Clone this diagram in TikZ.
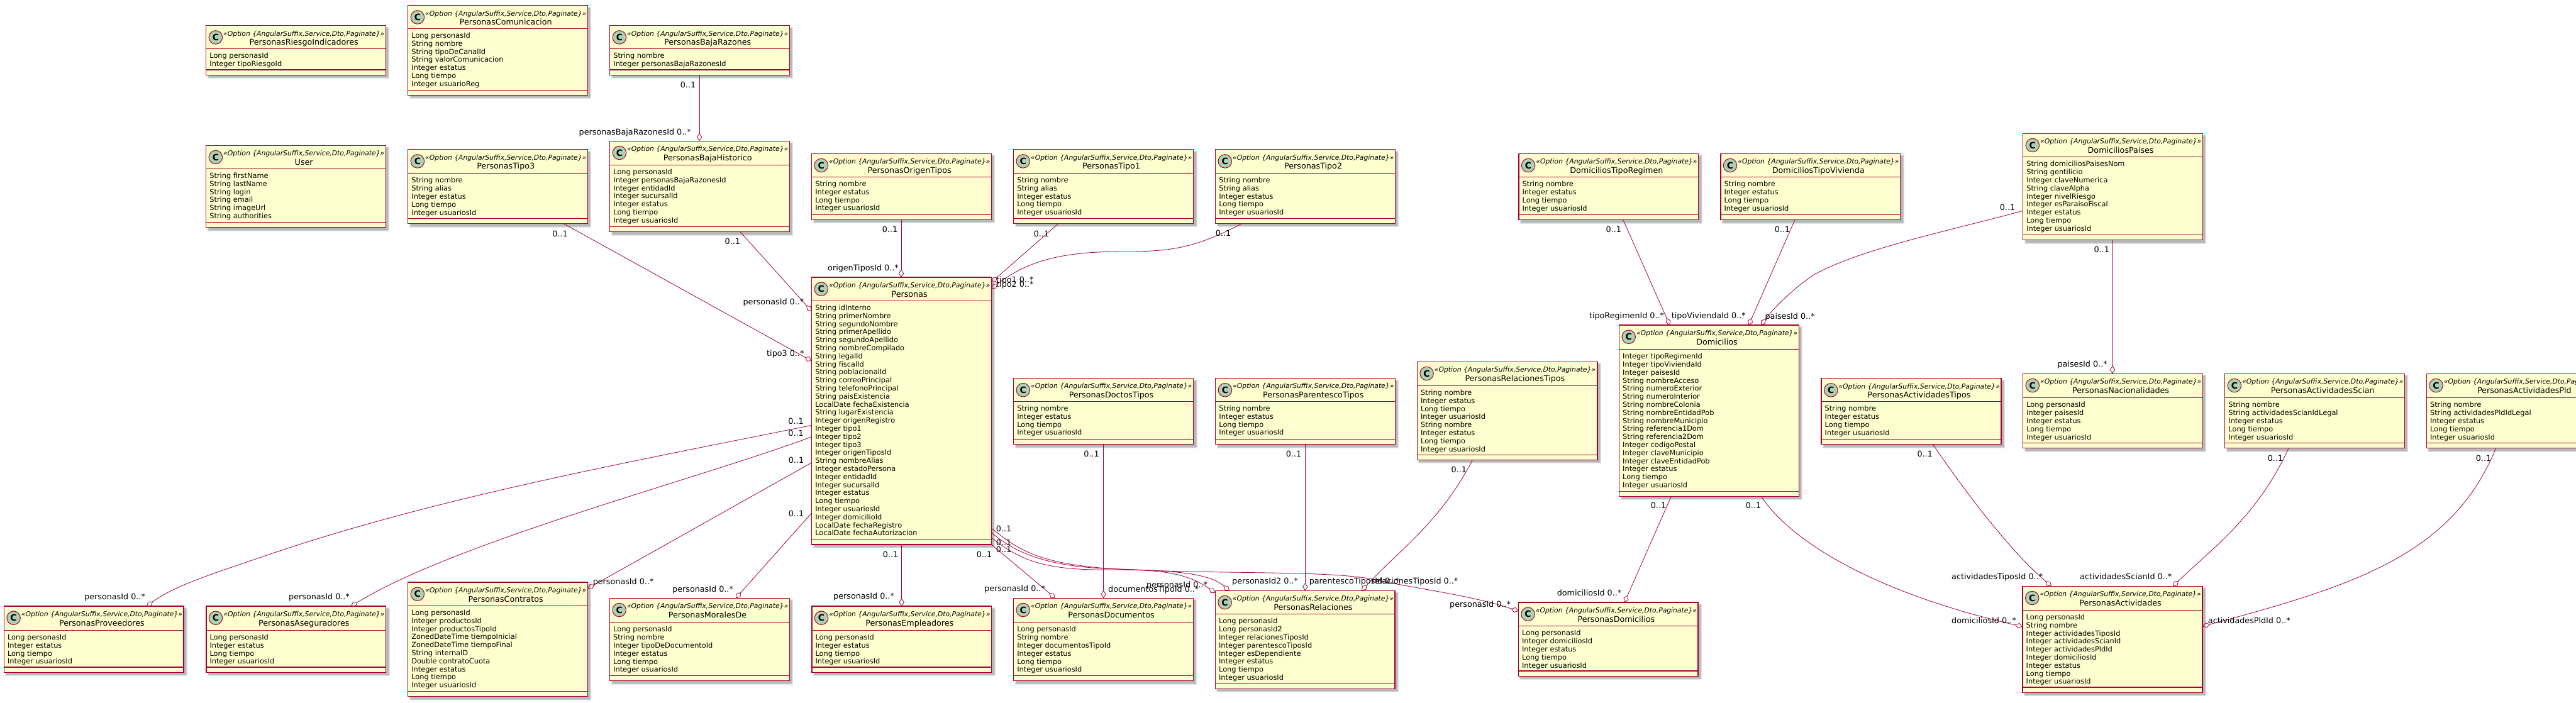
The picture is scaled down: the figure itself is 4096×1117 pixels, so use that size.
\documentclass[tikz,border=0pt]{standalone}
\usepackage{fontspec}
\setmainfont{DejaVu Sans}
\usetikzlibrary{arrows.meta}
\definecolor{umlred}{HTML}{A80036}
\definecolor{umlfill}{HTML}{FEFECE}
\definecolor{umlspot}{HTML}{ADD1B2}
\tikzset{
  classbox/.style={draw=umlred,fill=umlfill,line width=1.4pt,inner sep=0pt,outer sep=0pt,anchor=north west},
  classrule/.style={draw=umlred,line width=1.4pt},
  shadowlayer/.style={fill=black,opacity=.10},
  spotc/.style={circle,draw=umlred,fill=umlspot,line width=1pt,minimum size=21.5pt,inner sep=0pt,font=\fontsize{14}{14}\bfseries\selectfont},
  stereo/.style={inner sep=0pt,anchor=base,font=\fontsize{10.8}{12}\itshape\selectfont},
  ctitle/.style={inner sep=0pt,anchor=base,font=\fontsize{12.7}{14}\selectfont},
  attrs/.style={inner sep=0pt,anchor=north west,align=left,font=\fontsize{11.35}{12.8}\selectfont},
  lbl/.style={inner sep=0pt,font=\fontsize{12.75}{14}\selectfont},
  assoc/.style={draw=umlred,line width=.8pt},
  aggr/.style={assoc,-{Diamond[open,length=12.5pt,width=8.5pt,line width=.8pt]}}
}
\newcounter{lblc}
\newcommand{\umlclass}[9]{%
  \fill[shadowlayer] (#2+2,#3+2) rectangle (#4+6,#7+6);
  \fill[shadowlayer] (#2+3,#3+3) rectangle (#4+5,#7+5);
  \fill[shadowlayer] (#2+4,#3+4) rectangle (#4+4,#7+4);
  \node[classbox,minimum width={(#4-#2)*1pt},minimum height={(#7-#3)*1pt}] (#1) at (#2,#3) {};
  \draw[classrule] (#1.west |- 0,#5) -- (#1.east |- 0,#5);
  \draw[classrule] (#1.west |- 0,#6) -- (#1.east |- 0,#6);
  \node[spotc] (#1-spot) at (#2+15.2,#3+18.7) {C};
  \node[stereo] (#1-stereo) at (#2+155.6,#3+16.3) {«Option \{AngularSuffix,Service,Dto,Paginate\}»};
  \node[ctitle] (#1-title) at (#2+155.5,#3+31) {#8};
  \node[attrs] (#1-attrs) at (#2+5.5,#5+6) {\rule{0pt}{9pt}#9};
}
\newcommand{\lab}[3]{\stepcounter{lblc}\node[lbl,anchor=base west] (lbl-\arabic{lblc}) at (#1,#2+4.5) {#3};}
\newcommand{\zo}[2]{\stepcounter{lblc}\node[lbl,anchor=base] (lbl-\arabic{lblc}) at (#1,#2+4.5) {0..1};}
\begin{document}
\begin{tikzpicture}[x=1pt,y=-1pt]
\useasboundingbox (0,0) rectangle (4096,1117);
\clip (0,0) rectangle (4096,1117);
\fill[white] (0,0) rectangle (4096,1117);

\umlclass{PersonasRiesgoIndicadores}{327.7}{40.7}{613.4}{77.7}{111}{119.3}{PersonasRiesgoIndicadores}{Long personasId\\Integer tipoRiesgoId}
\umlclass{PersonasComunicacion}{648.7}{8.7}{934.4}{45.3}{143.3}{151.3}{PersonasComunicacion}{Long personasId\\String nombre\\String tipoDeCanalId\\String valorComunicacion\\Integer estatus\\Long tiempo\\Integer usuarioReg}
\umlclass{PersonasBajaRazones}{969.7}{40.7}{1255.4}{77.7}{111}{119.3}{PersonasBajaRazones}{String nombre\\Integer personasBajaRazonesId}
\umlclass{User}{327.7}{231.3}{613.4}{268.3}{353.3}{361.7}{User}{String firstName\\String lastName\\String login\\String email\\String imageUrl\\String authorities}
\umlclass{PersonasTipo3}{648.7}{237.7}{934.4}{275.7}{347.3}{355.7}{PersonasTipo3}{String nombre\\String alias\\Integer estatus\\Long tiempo\\Integer usuariosId}
\umlclass{PersonasBajaHistorico}{969.7}{224.3}{1255.4}{262.3}{360.3}{368.7}{PersonasBajaHistorico}{Long personasId\\Integer personasBajaRazonesId\\Integer entidadId\\Integer sucursalId\\Integer estatus\\Long tiempo\\Integer usuariosId}
\umlclass{PersonasOrigenTipos}{1290.6}{244.3}{1576.3}{281.3}{341.3}{349.3}{PersonasOrigenTipos}{String nombre\\Integer estatus\\Long tiempo\\Integer usuariosId}
\umlclass{PersonasTipo1}{1611.6}{237.7}{1897.6}{275.3}{347.3}{355.3}{PersonasTipo1}{String nombre\\String alias\\Integer estatus\\Long tiempo\\Integer usuariosId}
\umlclass{PersonasTipo2}{1932.6}{237.7}{2218.4}{275.3}{347.3}{355.3}{PersonasTipo2}{String nombre\\String alias\\Integer estatus\\Long tiempo\\Integer usuariosId}
\umlclass{Personas}{1290.6}{441}{1576.3}{478.3}{858.3}{866}{Personas}{String idInterno\\String primerNombre\\String segundoNombre\\String primerApellido\\String segundoApellido\\String nombreCompilado\\String legalId\\String fiscalId\\String poblacionalId\\String correoPrincipal\\String telefonoPrincipal\\String paisExistencia\\LocalDate fechaExistencia\\String lugarExistencia\\Integer origenRegistro\\Integer tipo1\\Integer tipo2\\Integer tipo3\\Integer origenTiposId\\String nombreAlias\\Integer estadoPersona\\Integer entidadId\\Integer sucursalId\\Integer estatus\\Long tiempo\\Integer usuariosId\\Integer domicilioId\\LocalDate fechaRegistro\\LocalDate fechaAutorizacion}
\umlclass{PersonasDoctosTipos}{1611.6}{601.5}{1897.6}{638.3}{698.5}{706.7}{PersonasDoctosTipos}{String nombre\\Integer estatus\\Long tiempo\\Integer usuariosId}
\umlclass{PersonasParentescoTipos}{1932.7}{601.5}{2218.4}{638.3}{698.5}{706.7}{PersonasParentescoTipos}{String nombre\\Integer estatus\\Long tiempo\\Integer usuariosId}
\umlclass{PersonasRelacionesTipos}{2253.4}{575.3}{2539.8}{613.3}{723.3}{731.3}{PersonasRelacionesTipos}{String nombre\\Integer estatus\\Long tiempo\\Integer usuariosId\\String nombre\\Integer estatus\\Long tiempo\\Integer usuariosId}
\umlclass{DomiciliosTipoRegimen}{2414.9}{244.3}{2700.7}{281.5}{341.6}{349.5}{DomiciliosTipoRegimen}{String nombre\\Integer estatus\\Long tiempo\\Integer usuariosId}
\umlclass{DomiciliosTipoVivienda}{2735.8}{244.3}{3021.6}{281.5}{341.6}{349.5}{DomiciliosTipoVivienda}{String nombre\\Integer estatus\\Long tiempo\\Integer usuariosId}
\umlclass{DomiciliosPaises}{3216.6}{212.3}{3502.3}{249.7}{373.3}{381.7}{DomiciliosPaises}{String domiciliosPaisesNom\\String gentilicio\\Integer claveNumerica\\String claveAlpha\\Integer nivelRiesgo\\Integer esParaisoFiscal\\Integer estatus\\Long tiempo\\Integer usuariosId}
\umlclass{Domicilios}{2574.5}{517.1}{2860.3}{555.5}{781.3}{789.3}{Domicilios}{Integer tipoRegimenId\\Integer tipoViviendaId\\Integer paisesId\\String nombreAcceso\\String numeroExterior\\String numeroInterior\\String nombreColonia\\String nombreEntidadPob\\String nombreMunicipio\\String referencia1Dom\\String referencia2Dom\\Integer codigoPostal\\Integer claveMunicipio\\Integer claveEntidadPob\\Integer estatus\\Long tiempo\\Integer usuariosId}
\umlclass{PersonasActividadesTipos}{2896}{601.7}{3181.8}{638.5}{698.3}{706.5}{PersonasActividadesTipos}{String nombre\\Integer estatus\\Long tiempo\\Integer usuariosId}
\umlclass{PersonasNacionalidades}{3216.6}{594.3}{3502.3}{632.7}{704.3}{712.7}{PersonasNacionalidades}{Long personasId\\Integer paisesId\\Integer estatus\\Long tiempo\\Integer usuariosId}
\umlclass{PersonasActividadesScian}{3537.7}{594.3}{3823.4}{632.7}{704.3}{712.7}{PersonasActividadesScian}{String nombre\\String actividadesScianIdLegal\\Integer estatus\\Long tiempo\\Integer usuariosId}
\umlclass{PersonasActividadesPld}{3858.3}{594.3}{4144}{632.7}{704.3}{712.7}{PersonasActividadesPld}{String nombre\\String actividadesPldIdLegal\\Integer estatus\\Long tiempo\\Integer usuariosId}
\umlclass{PersonasProveedores}{6.4}{964}{292}{1002.3}{1061}{1069.3}{PersonasProveedores}{Long personasId\\Integer estatus\\Long tiempo\\Integer usuariosId}
\umlclass{PersonasAseguradores}{327.8}{964}{613.5}{1002.3}{1061}{1069.3}{PersonasAseguradores}{Long personasId\\Integer estatus\\Long tiempo\\Integer usuariosId}
\umlclass{PersonasContratos}{648.6}{926}{934.3}{963.3}{1099.3}{1107.7}{PersonasContratos}{Long personasId\\Integer productosId\\Integer productosTipoId\\ZonedDateTime tiempoInicial\\ZonedDateTime tiempoFinal\\String internalD\\Double contratoCuota\\Integer estatus\\Long tiempo\\Integer usuariosId}
\umlclass{PersonasMoralesDe}{969.5}{951.3}{1255.2}{989.7}{1074.3}{1082.7}{PersonasMoralesDe}{Long personasId\\String nombre\\Integer tipoDeDocumentoId\\Integer estatus\\Long tiempo\\Integer usuariosId}
\umlclass{PersonasEmpleadores}{1290.8}{964}{1576.5}{1002.3}{1061}{1069.3}{PersonasEmpleadores}{Long personasId\\Integer estatus\\Long tiempo\\Integer usuariosId}
\umlclass{PersonasDocumentos}{1611.6}{951.3}{1897.3}{989.7}{1074.3}{1082.7}{PersonasDocumentos}{Long personasId\\String nombre\\Integer documentosTipoId\\Integer estatus\\Long tiempo\\Integer usuariosId}
\umlclass{PersonasRelaciones}{1932.4}{939.3}{2218}{976.7}{1086.7}{1095.3}{PersonasRelaciones}{Long personasId\\Long personasId2\\Integer relacionesTiposId\\Integer parentescoTiposId\\Integer esDependiente\\Integer estatus\\Long tiempo\\Integer usuariosId}
\umlclass{PersonasDomicilios}{2414.4}{958}{2700}{995.7}{1067}{1075.3}{PersonasDomicilios}{Long personasId\\Integer domiciliosId\\Integer estatus\\Long tiempo\\Integer usuariosId}
\umlclass{PersonasActividades}{3216}{932.3}{3502}{970.3}{1093}{1101.3}{PersonasActividades}{Long personasId\\String nombre\\Integer actividadesTiposId\\Integer actividadesScianId\\Integer actividadesPldId\\Integer domiciliosId\\Integer estatus\\Long tiempo\\Integer usuariosId}

% connectors
\draw[aggr] (1112,0 |- PersonasBajaRazones.south) -- (1112,0 |- PersonasBajaHistorico.north);
\draw[aggr] (896.3,0 |- PersonasTipo3.south) -- (Personas.west |- 0,574);
\draw[aggr] (1177,0 |- PersonasBajaHistorico.south) -- (Personas.west |- 0,495);
\draw[aggr] (1433,0 |- PersonasOrigenTipos.south) -- (1433,0 |- Personas.north);
\draw[aggr] (1683,0 |- PersonasTipo1.south) -- (Personas.east |- 0,449);
\draw[aggr] (1975,0 |- PersonasTipo2.south) .. controls (1900,395) and (1860,400) .. (1790,400) .. controls (1700,400) and (1640,410) .. (Personas.east |- 0,459);
\draw[aggr] (Personas.west |- 0,676.3) .. controls (1000,735) and (700,790) .. (433,880) .. controls (340,912) and (280,930) .. (233,0 |- PersonasProveedores.north);
\draw[aggr] (Personas.west |- 0,694.7) .. controls (1100,765) and (730,860) .. (558,0 |- PersonasAseguradores.north);
\draw[aggr] (Personas.west |- 0,735.7) -- (PersonasContratos.east |- 0,936);
\draw[aggr] (Personas.west |- 0,815.7) -- (1170,0 |- PersonasMoralesDe.north);
\draw[aggr] (1433.7,0 |- Personas.south) -- (1433.7,0 |- PersonasEmpleadores.north);
\draw[aggr] (Personas.east |- 0,865.7) -- (1678,0 |- PersonasDocumentos.north);
\draw[aggr] (Personas.east |- 0,855) .. controls (1615,885) and (1650,906) .. (1750,906) .. controls (1820,906) and (1880,905) .. (PersonasRelaciones.west |- 0,943);
\draw[aggr] (Personas.east |- 0,846.7) .. controls (1620,885) and (1680,903) .. (1780,905) .. controls (1860,908) and (1920,910) .. (1955,0 |- PersonasRelaciones.north);
\draw[aggr] (Personas.east |- 0,840) .. controls (1620,875) and (1650,895) .. (1760,904) .. controls (1950,915) and (2130,905) .. (2200,925) .. controls (2280,940) and (2350,950) .. (PersonasDomicilios.west |- 0,972);
\draw[aggr] (1754.5,0 |- PersonasDoctosTipos.south) -- (1754.5,0 |- PersonasDocumentos.north);
\draw[aggr] (2075.3,0 |- PersonasParentescoTipos.south) -- (2075.3,0 |- PersonasRelaciones.north);
\draw[aggr] (2341.5,0 |- PersonasRelacionesTipos.south) .. controls (2290,830) and (2230,870) .. (2165,0 |- PersonasRelaciones.north);
\draw[aggr] (2580.8,0 |- DomiciliosTipoRegimen.south) -- (2655,0 |- Domicilios.north);
\draw[aggr] (2854,0 |- DomiciliosTipoVivienda.south) -- (2780.5,0 |- Domicilios.north);
\draw[aggr] (DomiciliosPaises.west |- 0,335.2) .. controls (3100,367) and (2960,395) .. (2884,437) .. controls (2850,460) and (2820,490) .. (2800,0 |- Domicilios.north);
\draw[aggr] (2657.4,0 |- Domicilios.south) -- (2583,0 |- PersonasDomicilios.north);
\draw[aggr] (2800.3,0 |- Domicilios.south) .. controls (2850,865) and (2990,945) .. (PersonasActividades.west |- 0,996.5);
\draw[aggr] (3358.9,0 |- DomiciliosPaises.south) -- (3358.9,0 |- PersonasNacionalidades.north);
\draw[aggr] (3073.3,0 |- PersonasActividadesTipos.south) .. controls (3130,790) and (3200,880) .. (3262,0 |- PersonasActividades.north);
\draw[aggr] (3639,0 |- PersonasActividadesScian.south) .. controls (3590,820) and (3520,870) .. (3455,0 |- PersonasActividades.north);
\draw[aggr] (3968.6,0 |- PersonasActividadesPld.south) .. controls (3900,880) and (3750,930) .. (PersonasActividades.east |- 0,996);

% labels
\zo{1094}{134.7}
\lab{920.5}{209.7}{personasBajaRazonesId 0..*}
\zo{890.6}{371.7}
\lab{1219}{561.7}{tipo3 0..*}
\zo{1164.8}{383.7}
\lab{1181.4}{480}{personasId 0..*}
\zo{1415}{364.7}
\lab{1316}{425.7}{origenTiposId 0..*}
\zo{1656}{371.7}
\lab{1584}{445}{tipo1 0..*}
\zo{1945}{370.7}
\lab{1584}{452.3}{tipo2 0..*}
\zo{1265.6}{670}
\lab{134}{949}{personasId 0..*}
\zo{1265.6}{688.7}
\lab{459}{949}{personasId 0..*}
\zo{1266}{731.7}
\lab{942.6}{924.6}{personasId 0..*}
\zo{1266}{816.7}
\lab{1069}{936.7}{personasId 0..*}
\zo{1416}{881.7}
\lab{1325}{948.3}{personasId 0..*}
\zo{1565}{881.7}
\lab{1565}{936}{personasId 0..*}
\zo{1596}{840.7}
\lab{1823}{930}{personasId 0..*}
\zo{1596}{863.3}
\lab{1959}{924}{personasId2 0..*}
\zo{1596}{873.7}
\lab{2305}{961}{personasId 0..*}
\zo{1735.6}{721.7}
\lab{1762}{937.3}{documentosTipoId 0..*}
\zo{2057}{721.7}
\lab{2081.6}{924}{parentescoTiposId 0..*}
\zo{2319.8}{747.3}
\lab{2181}{924}{relacionesTiposId 0..*}
\zo{2565.8}{364.9}
\lab{2526.8}{501.7}{tipoRegimenId 0..*}
\zo{2834}{364.9}
\lab{2657.7}{501.7}{tipoViviendaId 0..*}
\zo{3192}{329.7}
\lab{2806.4}{502.5}{paisesId 0..*}
\zo{2637}{804.3}
\lab{2475.6}{942.7}{domiciliosId 0..*}
\zo{2788}{804.3}
\lab{3103}{986.7}{domiciliosId 0..*}
\zo{3341.7}{396.7}
\lab{3271.4}{578.7}{paisesId 0..*}
\zo{3060.7}{722}
\lab{3103}{916.7}{actividadesTiposId 0..*}
\zo{3618}{729}
\lab{3307}{916.7}{actividadesScianId 0..*}
\zo{3949}{729}
\lab{3510.7}{986.7}{actividadesPldId 0..*}
\end{tikzpicture}
\end{document}
